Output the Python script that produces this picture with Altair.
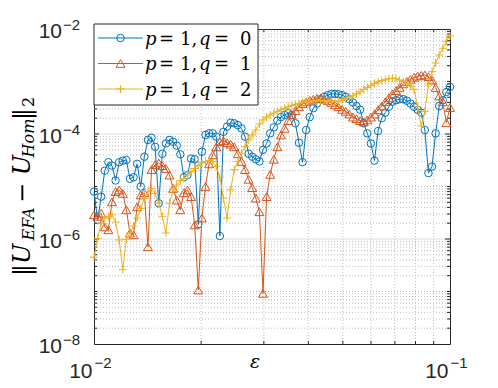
import altair as alt
import numpy as np
import pandas as pd

# ---------------- data ----------------
# epsilon sampling grid (100 log-spaced samples between 1e-2 and 1e-1)
eps = np.logspace(-2, -1, 100)

err_q0 = [8.0e-6, 2.3e-6, 6.4e-6, 2.0e-5, 2.9e-5, 2.5e-5, 1.3e-5, 2.9e-5, 3.1e-5, 3.2e-5,
          1.4e-5, 1.5e-5, 2.7e-5, 1.0e-5, 3.7e-5, 7.7e-5, 8.5e-5, 5.7e-5, 4.8e-6, 4.2e-5,
          6.6e-5, 7.7e-5, 7.1e-5, 6.0e-5, 4.1e-5, 1.5e-5, 1.65e-5, 3.4e-5, 3.3e-5, 1.9e-6,
          4.6e-5, 9.6e-5, 1.03e-4, 1.03e-4, 8.9e-5, 1.14e-6, 1.1e-4, 1.38e-4, 1.64e-4, 1.6e-4,
          1.48e-4, 1.28e-4, 8.9e-5, 4.2e-5, 3.7e-5, 3.3e-5, 3.0e-5, 5.0e-5, 6.6e-5, 1.03e-4,
          1.34e-4, 1.8e-4, 2.1e-4, 2.3e-4, 2.5e-4, 2.3e-4, 1.6e-4, 6.8e-5, 2.9e-5, 1.19e-4,
          2.1e-4, 3.1e-4, 3.8e-4, 4.6e-4, 5.1e-4, 5.5e-4, 5.8e-4, 5.8e-4, 5.7e-4, 5.5e-4,
          5.1e-4, 4.6e-4, 4.0e-4, 3.4e-4, 2.9e-4, 1.6e-4, 1.03e-4, 6.6e-5, 3.1e-5, 1.14e-4,
          2.0e-4, 2.55e-4, 3.3e-4, 4.1e-4, 4.4e-4, 4.6e-4, 4.6e-4, 4.3e-4, 3.8e-4, 3.3e-4,
          2.9e-4, 2.55e-4, 1.19e-4, 1.8e-5, 2.4e-5, 1.03e-4, 3.4e-4, 4.4e-4, 6.3e-4, 7.9e-4]

err_q1 = [2.9e-6, 2.7e-6, 3.1e-6, 1.7e-6, 1.5e-6, 5.1e-6, 8.0e-6, 8.6e-6, 7.4e-6, 3.6e-6,
          1.3e-6, 1.2e-6, 4.1e-6, 6.9e-6, 7.6e-6, 7.1e-7, 2.1e-5, 2.6e-5, 2.8e-5, 2.5e-5,
          2.2e-5, 1.65e-5, 9.2e-6, 5.5e-6, 3.6e-6, 7.6e-6, 8.6e-6, 6.4e-6, 1.85e-6, 1.07e-7,
          2.5e-6, 1.0e-5, 2.7e-5, 4.0e-5, 5.7e-5, 7.1e-5, 7.5e-5, 6.8e-5, 6.4e-5, 5.7e-5,
          4.2e-5, 3.0e-5, 2.1e-5, 1.37e-5, 9.5e-6, 6.0e-6, 3.3e-6, 9.2e-8, 6.4e-6, 1.7e-5,
          3.3e-5, 5.7e-5, 9.6e-5, 1.28e-4, 1.8e-4, 2.3e-4, 2.8e-4, 3.3e-4, 3.8e-4, 4.1e-4,
          4.4e-4, 4.6e-4, 4.8e-4, 4.8e-4, 4.6e-4, 4.3e-4, 4.0e-4, 3.6e-4, 3.3e-4, 2.95e-4,
          2.7e-4, 2.4e-4, 2.1e-4, 1.96e-4, 1.8e-4, 1.7e-4, 1.85e-4, 2.1e-4, 2.4e-4, 2.9e-4,
          3.4e-4, 4.1e-4, 4.9e-4, 5.8e-4, 6.7e-4, 7.7e-4, 9.0e-4, 1.0e-3, 1.1e-3, 1.2e-3,
          1.27e-3, 1.31e-3, 1.33e-3, 1.24e-3, 1.07e-3, 7.7e-4, 5.3e-4, 4.1e-4, 1.64e-4, 3.2e-4]

err_q2 = [4.5e-7, 1.03e-6, 2.0e-6, 2.5e-6, 2.7e-6, 2.9e-6, 2.1e-6, 9.6e-7, 2.6e-7, 9.9e-7,
          1.3e-6, 1.77e-6, 2.5e-6, 3.8e-6, 6.0e-6, 8.0e-6, 9.2e-6, 7.4e-6, 4.8e-6, 2.7e-6,
          1.3e-6, 4.8e-6, 8.6e-6, 1.07e-5, 1.29e-5, 1.43e-5, 1.65e-5, 1.9e-5, 2.2e-5, 2.5e-5,
          2.8e-5, 3.0e-5, 3.1e-5, 3.0e-5, 2.4e-5, 1.5e-5, 6.0e-6, 2.5e-6, 8.6e-6, 2.1e-5,
          3.0e-5, 4.3e-5, 5.7e-5, 7.7e-5, 9.6e-5, 1.19e-4, 1.55e-4, 1.85e-4, 2.1e-4, 2.3e-4,
          2.5e-4, 2.7e-4, 2.9e-4, 3.1e-4, 3.3e-4, 3.5e-4, 3.7e-4, 3.8e-4, 4.0e-4, 4.1e-4,
          4.25e-4, 4.3e-4, 4.3e-4, 4.3e-4, 4.3e-4, 4.25e-4, 4.25e-4, 4.2e-4, 4.25e-4, 4.4e-4,
          4.7e-4, 5.0e-4, 5.3e-4, 5.8e-4, 6.4e-4, 7.1e-4, 7.7e-4, 8.5e-4, 9.2e-4, 9.8e-4,
          1.04e-3, 1.08e-3, 1.13e-3, 1.15e-3, 1.13e-3, 1.07e-3, 1.0e-3, 9.2e-4, 8.2e-4, 7.1e-4,
          3.3e-4, 1.42e-4, 2.7e-4, 8.6e-4, 1.54e-3, 2.25e-3, 3.2e-3, 4.3e-3, 5.8e-3, 7.4e-3]

series_q = ["0", "1", "2"]
series_err = [err_q0, err_q1, err_q2]

x_tick_vals = [0.01, 0.1]
x_tick_exp = ["\u22122", "\u22121"]
y_tick_vals = [1e-2, 1e-4, 1e-6, 1e-8]
y_tick_exp = ["\u22122", "\u22124", "\u22126", "\u22128"]

# ---------------- layout / style ----------------
W, H = 356, 315
COLORS = ["#0072BD", "#D95319", "#EDB120"]
SHAPES = ["circle", "triangle-up", "M-1,0L1,0M0,-1L0,1"]
SIZES = [56, 80, 64]
AXC = "#262626"
SANS = "Liberation Sans"
SERIF = "DejaVu Serif"

xs = alt.Scale(type="log", domain=[0.01, 0.1], nice=False)
ys = alt.Scale(type="log", domain=[1e-8, 1e-2], nice=False)

x_minor = [k * 0.01 for k in range(2, 10)]
y_minor = []
for e in range(-8, -2):
    for m in range(1, 10):
        if m == 1 and e % 2 == 0:
            continue
        y_minor.append(m * 10.0 ** e)
y_major_inner = [1e-4, 1e-6]

layers = []

def X(field="v"):
    return alt.X(f"{field}:Q", scale=xs, axis=None)

def Y(field="v"):
    return alt.Y(f"{field}:Q", scale=ys, axis=None)

# grids
layers.append(alt.Chart(pd.DataFrame({"v": x_minor})).mark_rule(
    color="#bdbdbd", strokeDash=[1, 2], strokeWidth=1).encode(
    x=X(), y=alt.value(0), y2=alt.value(H)))
layers.append(alt.Chart(pd.DataFrame({"v": y_minor})).mark_rule(
    color="#bdbdbd", strokeDash=[1, 2], strokeWidth=1).encode(
    y=Y(), x=alt.value(0), x2=alt.value(W)))
layers.append(alt.Chart(pd.DataFrame({"v": y_major_inner})).mark_rule(
    color="#dedede", strokeWidth=1).encode(
    y=Y(), x=alt.value(0), x2=alt.value(W)))

# inward ticks
for (y0, y1) in [(H, H - 3), (0, 3)]:
    layers.append(alt.Chart(pd.DataFrame({"v": x_minor})).mark_rule(
        color=AXC, strokeWidth=1).encode(x=X(), y=alt.value(y0), y2=alt.value(y1)))
for (x0, x1, vals) in [(0, 3, y_minor), (W, W - 3, y_minor),
                       (0, 5, y_major_inner), (W, W - 5, y_major_inner)]:
    layers.append(alt.Chart(pd.DataFrame({"v": vals})).mark_rule(
        color=AXC, strokeWidth=1).encode(y=Y(), x=alt.value(x0), x2=alt.value(x1)))

# data series
for q, err, c, shp, sz in zip(series_q, series_err, COLORS, SHAPES, SIZES):
    df = pd.DataFrame({"eps": eps, "err": err})
    base = alt.Chart(df)
    layers.append(base.mark_line(color=c, strokeWidth=1).encode(x=X("eps"), y=Y("err")))
    layers.append(base.mark_point(shape=shp, size=sz, filled=False, color=c,
                                  strokeWidth=1, opacity=1).encode(x=X("eps"), y=Y("err")))

# tick labels
layers.append(alt.Chart(pd.DataFrame({"v": y_tick_vals})).mark_text(
    text="10", align="right", baseline="middle", dy=3, fontSize=21, font=SANS,
    color=AXC).encode(y=Y(), x=alt.value(-32)))
layers.append(alt.Chart(pd.DataFrame({"v": y_tick_vals, "s": y_tick_exp})).mark_text(
    align="left", baseline="middle", dy=-4.5, fontSize=15, font=SANS,
    color=AXC).encode(y=Y(), x=alt.value(-31), text="s:N"))
layers.append(alt.Chart(pd.DataFrame({"v": x_tick_vals})).mark_text(
    text="10", align="right", baseline="middle", dx=-1.5, fontSize=21, font=SANS,
    color=AXC).encode(x=X(), y=alt.value(H + 27.5)))
layers.append(alt.Chart(pd.DataFrame({"v": x_tick_vals, "s": x_tick_exp})).mark_text(
    align="left", baseline="middle", dx=0.5, fontSize=15, font=SANS,
    color=AXC).encode(x=X(), y=alt.value(H + 19), text="s:N"))

one = pd.DataFrame({"t": [""]})

def txt(s, x, y, size, italic=True, angle=0, align="left", baseline="alphabetic", font=SERIF):
    kw = dict(align=align, baseline=baseline, fontSize=size, font=font, color="#000000")
    if italic:
        kw["fontStyle"] = "italic"
    if angle:
        kw["angle"] = angle
    return alt.Chart(pd.DataFrame({"t": [s]})).mark_text(**kw).encode(
        x=alt.value(x), y=alt.value(y), text="t:N")

# x title
layers.append(txt("\u03b5", 161, 333, 19, align="center", baseline="middle"))

# y title (rotated, segments)
for s, yc, size, xb in [("\u2016U", 231, 24, -64), ("EFA", 195, 16, -60),
                        ("\u2212 U", 150, 24, -64), ("Hom", 109, 16, -60),
                        ("\u2016", 85, 24, -64), ("2", 73, 16, -60)]:
    layers.append(txt(s, xb, yc, size, italic=(s != "2"), angle=270, align="center"))

# legend
layers.append(alt.Chart(one).mark_rect(fill="white", stroke=AXC, strokeWidth=1).encode(
    x=alt.value(0), x2=alt.value(164), y=alt.value(-5), y2=alt.value(76)))
row_y = [9, 34.5, 60]
for q, c, shp, sz, ry in zip(series_q, COLORS, SHAPES, SIZES, row_y):
    layers.append(alt.Chart(one).mark_rule(color=c, strokeWidth=1).encode(
        x=alt.value(4), x2=alt.value(49), y=alt.value(ry)))
    layers.append(alt.Chart(one).mark_point(shape=shp, size=sz, filled=False, color=c,
                                            strokeWidth=1, opacity=1).encode(
        x=alt.value(26.5), y=alt.value(ry)))
    bl = ry + 6.5
    layers.append(txt("p", 51, bl, 18))
    layers.append(txt("=", 65, bl, 18, italic=False))
    layers.append(txt("1,", 86, bl, 18, italic=False))
    layers.append(txt("q", 105, bl, 18))
    layers.append(txt("=", 120, bl, 18, italic=False))
    layers.append(txt(q, 146, bl, 18, italic=False))

chart = alt.layer(*layers).properties(
    width=W, height=H,
    padding={"left": 86, "top": 21, "right": 30, "bottom": 36},
    autosize=alt.AutoSizeParams(type="none"),
).configure_view(stroke=AXC, strokeWidth=1)

chart.save("out.html", embed_options={"renderer": "svg", "actions": False})
